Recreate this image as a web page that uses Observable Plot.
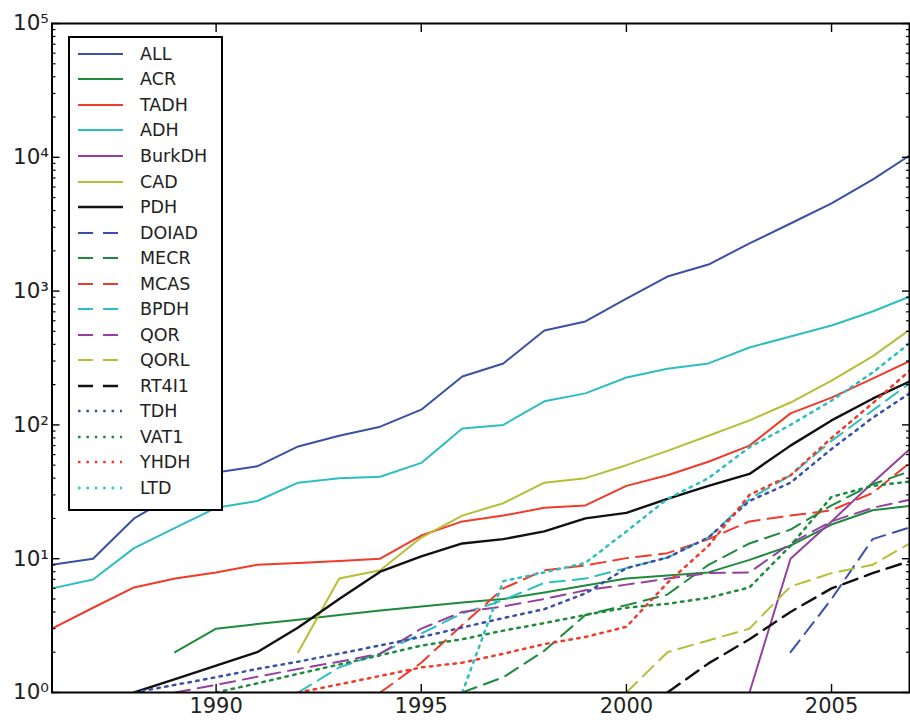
<!DOCTYPE html>
<html><head><meta charset="utf-8">
<script src="https://cdn.jsdelivr.net/npm/d3@7"></script>
<script src="https://cdn.jsdelivr.net/npm/@observablehq/plot@0.6"></script>
<style>
body{margin:0;background:#fff;}
#wrap{position:relative;width:910px;height:720px;font-family:"DejaVu Sans",sans-serif;}
#legend{position:absolute;left:67.5px;top:36px;width:155.5px;height:474.5px;box-sizing:border-box;border:2px solid #000;background:#fff;padding-top:3.2px;}
.row{display:flex;align-items:center;height:25.53px;font-size:17.5px;color:#222;white-space:nowrap;}
.row svg{margin-left:8.5px;margin-right:17px;flex:none;}
</style></head><body><div id="wrap"></div>
<script>
// ---- data ----
const years = [1986,1987,1988,1989,1990,1991,1992,1993,1994,1995,1996,1997,1998,1999,2000,2001,2002,2003,2004,2005,2006,2007];
const _ = null;
const ALL    = [9,10,20,30,44,49,69,83,97,130,230,288,508,593,880,1285,1580,2270,3200,4520,6820,10800];
const ACR    = [_,_,_,2,3,3.25,3.5,3.8,4.1,4.4,4.7,5,5.6,6.3,7.1,7.5,7.9,9.8,12.5,18,23,25];
const TADH   = [3,4.3,6.1,7.1,7.9,9,9.3,9.6,10,14.9,19,21,24,25,35,42,53,70,122,160,222,310];
const ADH    = [6,7,12,17,24,27,37,40,41,52,94,100,150,172,226,263,288,379,458,553,704,935];
const BurkDH = [_,_,_,_,_,_,_,_,_,_,_,_,_,_,_,_,_,1,10,19,37,70];
const CAD    = [_,_,_,_,_,_,2,7.1,8.2,14.4,21,26,37,40,50,64,83,108,147,214,325,540];
const PDH    = [_,_,1,1.26,1.59,2,3.06,5,8,10.4,13,14,16,20,22,28,35,43,70,108,157,218];
const DOIAD  = [_,_,_,_,_,_,_,_,_,_,_,_,_,_,_,_,_,_,2,5,14,17.5];
const MECR   = [_,_,_,_,_,_,_,_,_,_,1,1.3,2.05,3.8,4.5,5.4,9,13,16.5,25,36,46];
const MCAS   = [_,_,_,_,_,_,_,_,1,1.67,3.2,6,8.2,8.9,10.1,11,14,19,21,23,31,55];
const BPDH   = [_,_,_,_,_,_,1,1.54,1.96,2.76,3.9,4.9,6.6,7.1,8.5,10.2,14.4,28,42,76,128,215];
const QOR    = [_,_,_,1,1.14,1.31,1.5,1.7,1.95,3,4,4.4,5,5.8,6.4,7.1,7.8,7.9,13,19,24,28];
const QORL   = [_,_,_,_,_,_,_,_,_,_,_,_,_,_,1,2,2.45,3,6.2,7.8,9,13.5];
const RT4I1  = [_,_,_,_,_,_,_,_,_,_,_,_,_,_,_,1,1.65,2.5,4,6,7.8,9.8];
const TDH    = [_,_,1,1.14,1.3,1.5,1.7,1.95,2.25,2.6,3.06,3.6,4.2,5.5,8.5,10.2,14.4,27,37,66,113,180];
const VAT1   = [_,_,_,_,1,1.17,1.38,1.62,1.9,2.24,2.5,2.9,3.3,3.8,4.3,4.6,5.1,6.1,12.5,29,35,38];
const YHDH   = [_,_,_,_,_,_,1,1.15,1.33,1.54,1.67,1.95,2.3,2.6,3.1,6.6,12.5,30,42,80,145,270];
const LTD    = [_,_,_,_,_,_,_,_,_,_,1,6.8,7.9,9.3,16,28,40,68,100,152,246,430];

const seriesNames = ["ALL","ACR","TADH","ADH","BurkDH","CAD","PDH","DOIAD","MECR","MCAS","BPDH","QOR","QORL","RT4I1","TDH","VAT1","YHDH","LTD"];
const seriesValues = [ALL,ACR,TADH,ADH,BurkDH,CAD,PDH,DOIAD,MECR,MCAS,BPDH,QOR,QORL,RT4I1,TDH,VAT1,YHDH,LTD];
const xTicks = [1990,1995,2000,2005];
const yMajor = [1,10,100,1000,10000,100000];
const yLabels = ["10⁰","10¹","10²","10³","10⁴","10⁵"];

// ---- styles ----
const palette = ["#3a50a6","#1e8a3c","#f03a2a","#2cbec0","#9540a0","#b5be35","#111111"];
const styleOf = i => {
  const group = i < 7 ? 0 : i < 14 ? 1 : 2;
  const color = i < 7 ? palette[i] : i < 14 ? palette[i-7] : palette[i-14];
  const dash = group === 0 ? null : group === 1 ? "15,8" : "2.5,5.4";
  const width = group === 2 ? 2.5 : (color === "#111111" ? 2.4 : 2);
  return {color, dash, width};
};
const yMinor = yMajor.slice(0,-1).flatMap(d => [2,3,4,5,6,7,8,9].map(m => m*d));

const lineMarks = seriesNames.map((name,i) => {
  const st = styleOf(i);
  const rows = years.map((yr,j) => ({year: yr, v: seriesValues[i][j]})).filter(d => d.v != null);
  return Plot.line(rows, {x: "year", y: "v", stroke: st.color, strokeWidth: st.width,
    strokeDasharray: st.dash, clip: true, strokeLinejoin: "round"});
});

const chart = Plot.plot({
  width: 910, height: 720,
  marginLeft: 51.5, marginRight: 1, marginTop: 23, marginBottom: 28,
  x: {domain: [1986, 2006.9], label: null},
  y: {type: "log", domain: [1, 100000], label: null},
  style: {fontFamily: "DejaVu Sans, sans-serif", fontSize: "21.5px", color: "#222", background: "#fff"},
  marks: [
    ...lineMarks,
    Plot.frame({stroke: "#000", strokeWidth: 2}),
    Plot.axisY({anchor: "left", ticks: yMajor, tickSize: 8, dx: 8, fill: "none", stroke: "#000", strokeWidth: 1.4, label: null}),
    Plot.axisY({anchor: "left", ticks: yMinor, tickSize: 4, dx: 4, fill: "none", stroke: "#000", strokeWidth: 1.2, label: null}),
    Plot.axisY({anchor: "right", ticks: yMajor, tickSize: 8, dx: -8, fill: "none", stroke: "#000", strokeWidth: 1.4, label: null}),
    Plot.axisY({anchor: "right", ticks: yMinor, tickSize: 4, dx: -4, fill: "none", stroke: "#000", strokeWidth: 1.2, label: null}),
    Plot.axisY({anchor: "left", ticks: yMajor, tickSize: 0, tickPadding: 3, stroke: "none", fill: "#222",
      tickFormat: d => yLabels[yMajor.indexOf(d)], label: null}),
    Plot.axisX({anchor: "bottom", ticks: xTicks, tickSize: 8, dy: -8, fill: "none", stroke: "#000", strokeWidth: 1.4, label: null}),
    Plot.axisX({anchor: "top", ticks: xTicks, tickSize: 8, dy: 8, fill: "none", stroke: "#000", strokeWidth: 1.4, label: null}),
    Plot.axisX({anchor: "bottom", ticks: xTicks, tickSize: 0, tickPadding: 6, stroke: "none", fill: "#222",
      tickFormat: d => String(d), fontSize: 21, label: null})
  ]
});
const wrap = document.getElementById("wrap");
wrap.appendChild(chart);

// ---- legend ----
const legend = document.createElement("div");
legend.id = "legend";
seriesNames.forEach((name,i) => {
  const st = styleOf(i);
  const row = document.createElement("div");
  row.className = "row";
  const len = st.dash === null ? 45 : st.dash.startsWith("15") ? 40 : 44;
  row.innerHTML = `<svg width="45" height="10"><line x1="0" y1="5" x2="${len}" y2="5" stroke="${st.color}" stroke-width="${st.width}" ${st.dash ? `stroke-dasharray="${st.dash === "15,8" ? "15,10" : "2.5,5.9"}"` : ""}/></svg><span>${name}</span>`;
  legend.appendChild(row);
});
wrap.appendChild(legend);
</script>
</body></html>
